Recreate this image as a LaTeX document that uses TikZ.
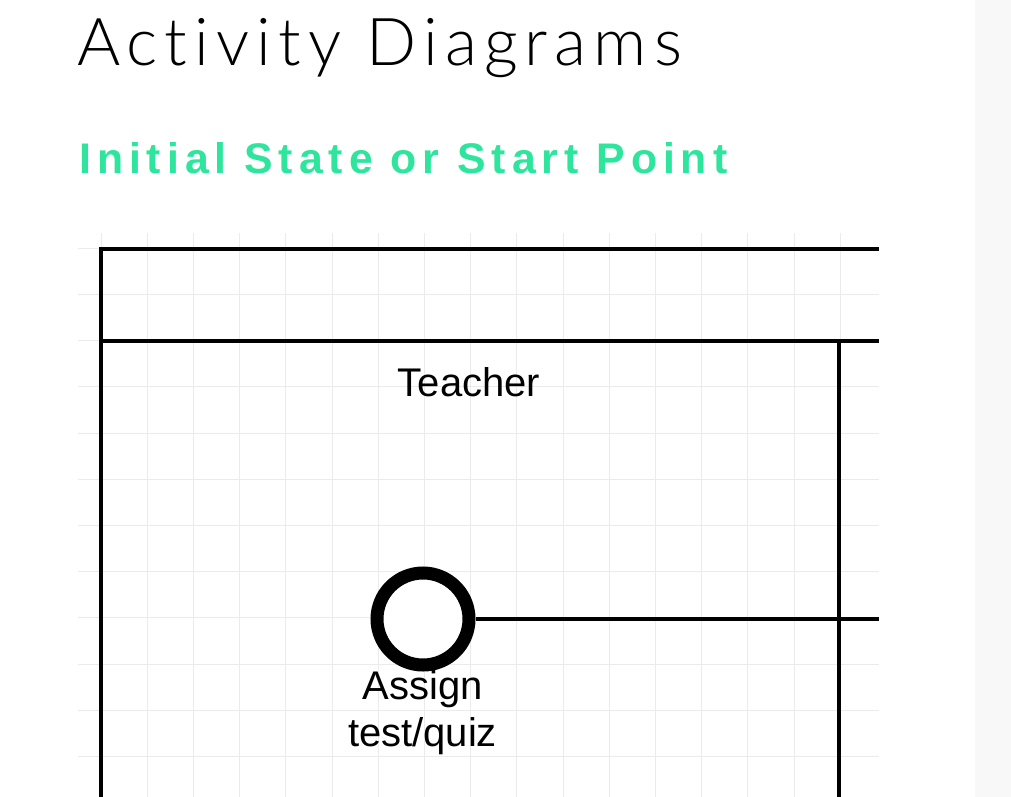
\documentclass[tikz,border=0pt]{standalone}
\usepackage{fontspec}
\setmainfont{Liberation Sans}
\newfontfamily\titlefont{Lato Light}[LetterSpace=10.8, Ligatures={NoCommon}]
\newfontfamily\subtitlefont{Liberation Sans}[LetterSpace=13.9]
\definecolor{accent}{HTML}{2EE59D}
\definecolor{gridgray}{HTML}{EBEBEB}
\definecolor{sidegray}{HTML}{F8F8F8}
\tikzset{
  gridline/.style={draw=gridgray, line width=1pt},
  lane/.style={draw=black, line width=4pt},
  flow/.style={draw=black, line width=3.5pt},
  startnode/.style={circle, draw=black, line width=13pt, minimum size=92pt, inner sep=0pt, fill=white},
  lbl/.style={font=\fontsize{40}{47.4}\selectfont, inner sep=0pt, align=center},
  titletext/.style={font=\titlefont\fontsize{66}{70}\selectfont, inner sep=0pt},
  subtitletext/.style={font=\subtitlefont\bfseries\fontsize{42.8}{46}\selectfont, text=accent, inner sep=0pt},
}
\begin{document}
\begin{tikzpicture}[x=1pt,y=-1pt]
\useasboundingbox (0,0) rectangle (1011,797);
\fill[white] (0,0) rectangle (975,797);
\fill[sidegray] (975,0) rectangle (1011,797);
% grid
\begin{scope}
  \clip (78,233) rectangle (879,797);
  \foreach \k in {-1,...,17} \draw[gridline] ({101+46.2*\k},233) -- ({101+46.2*\k},797);
  \foreach \k in {-1,...,12} \draw[gridline] (78,{248.3+46.2*\k}) -- (879,{248.3+46.2*\k});
\end{scope}
% titles
\node[titletext, anchor=base west] (title) at (77,65.7) {Activity Diagrams};
\node[subtitletext, anchor=base west] (subtitle) at (79,173.3) {Initial State or Start Point};
% swimlane
\draw[lane] (879,249) -- (101,249) -- (101,799);
\draw[lane] (101,341) -- (879,341);
\draw[lane] (839,341) -- (839,799);
\node[lbl, anchor=base] (teacher) at (469,396) {Teacher};
% initial state
\node[startnode] (init) at (423,619) {};
\coordinate (flowend) at (879,619);
\draw[flow] (init.east) -- (flowend);
\node[lbl, anchor=base] (assign) at (422.5,746.7) {Assign\\test/quiz};
\end{tikzpicture}
\end{document}
